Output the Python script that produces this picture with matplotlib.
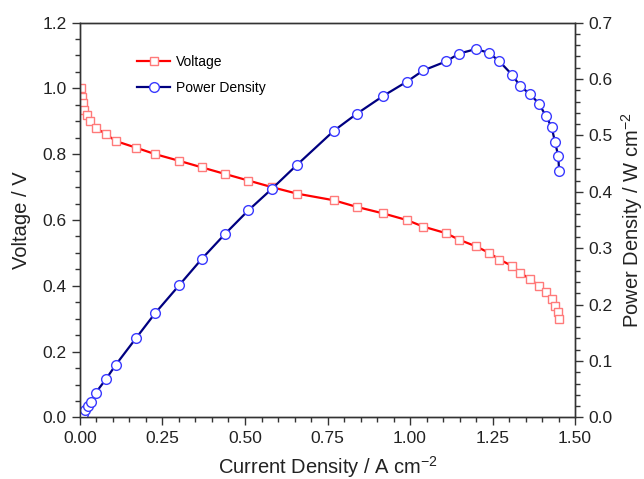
import matplotlib
matplotlib.use("Agg")
import matplotlib.pyplot as plt
from matplotlib.ticker import MultipleLocator, FormatStrFormatter

plt.rcParams['font.family'] = ['Liberation Sans', 'DejaVu Sans']
plt.rcParams['mathtext.default'] = 'regular'
plt.rcParams['axes.unicode_minus'] = False

# Voltage series
v_current = [0.002, 0.005, 0.008, 0.012, 0.020, 0.030, 0.048, 0.080, 0.108, 0.169,
             0.228, 0.300, 0.369, 0.439, 0.510, 0.581, 0.658, 0.769, 0.838, 0.919,
             0.990, 1.040, 1.109, 1.149, 1.200, 1.240, 1.271, 1.310, 1.334, 1.364,
             1.391, 1.411, 1.429, 1.439, 1.449, 1.452]
voltage = [1.00, 0.975, 0.955, 0.935, 0.92, 0.90, 0.88, 0.86, 0.84, 0.82,
           0.80, 0.78, 0.76, 0.74, 0.72, 0.70, 0.68, 0.66, 0.64, 0.62,
           0.60, 0.58, 0.56, 0.54, 0.52, 0.50, 0.48, 0.46, 0.44, 0.42,
           0.40, 0.38, 0.36, 0.34, 0.32, 0.30]

# Power density series
p_current = [0.010, 0.015, 0.023, 0.032, 0.048, 0.080, 0.108, 0.169, 0.228, 0.300,
             0.369, 0.439, 0.510, 0.581, 0.658, 0.769, 0.838, 0.919, 0.990, 1.040,
             1.109, 1.149, 1.200, 1.240, 1.271, 1.310, 1.334, 1.364, 1.391, 1.411,
             1.429, 1.439, 1.449, 1.452]
power = [0.007, 0.013, 0.021, 0.028, 0.044, 0.069, 0.093, 0.140, 0.185, 0.234,
         0.281, 0.325, 0.367, 0.405, 0.448, 0.508, 0.538, 0.570, 0.595, 0.615,
         0.631, 0.645, 0.653, 0.646, 0.631, 0.607, 0.587, 0.573, 0.556, 0.535,
         0.515, 0.489, 0.464, 0.436]

fig = plt.figure(figsize=(6.44, 4.79), dpi=100)
ax = fig.add_axes([0.1242, 0.1284, 0.7687, 0.8246])
ax2 = ax.twinx()

l1, = ax.plot(v_current, voltage, color='#ff0000', lw=1.6, marker='s', ms=6,
              mfc='white', mec='#ff7a7a', mew=1.0, label='Voltage')
l2, = ax2.plot(p_current, power, color='#000080', lw=1.6, marker='o', ms=7,
               mfc='white', mec='#3a3aff', mew=1.0, label='Power Density')

ax.set_xlim(0, 1.5)
ax.set_ylim(0, 1.2)
ax2.set_ylim(0, 0.7)

ax.xaxis.set_major_locator(MultipleLocator(0.25))
ax.xaxis.set_minor_locator(MultipleLocator(0.05))
ax.xaxis.set_major_formatter(FormatStrFormatter('%.2f'))
ax.yaxis.set_major_locator(MultipleLocator(0.2))
ax.yaxis.set_minor_locator(MultipleLocator(0.05))
ax.yaxis.set_major_formatter(FormatStrFormatter('%.1f'))
ax2.yaxis.set_major_locator(MultipleLocator(0.1))
ax2.yaxis.set_minor_locator(MultipleLocator(0.02))
ax2.yaxis.set_major_formatter(FormatStrFormatter('%.1f'))

for a in (ax, ax2):
    a.tick_params(which='major', direction='out', length=6, width=1, labelsize=12.5,
                  colors='#333333', labelcolor='#222222')
    a.tick_params(which='minor', direction='out', length=3.5, width=1, colors='#333333')
    for s in a.spines.values():
        s.set_color('#333333')
        s.set_linewidth(1.0)
ax.tick_params(axis='x', which='both', top=False)
ax.tick_params(axis='y', which='both', right=False)

ax.set_xlabel('Current Density / A cm$^{-2}$', fontsize=14.5, color='#222222', labelpad=6)
ax.set_ylabel('Voltage / V', fontsize=14.5, color='#222222', labelpad=8)
ax2.set_ylabel('Power Density / W cm$^{-2}$', fontsize=14.5, color='#222222', labelpad=5)

leg = ax.legend([l1, l2], ['Voltage', 'Power Density'], loc='upper left',
                bbox_to_anchor=(0.09, 0.95), frameon=False, fontsize=10,
                handlelength=2.4, labelspacing=0.9, handletextpad=0.4)

fig.savefig('out.png', dpi=100)
